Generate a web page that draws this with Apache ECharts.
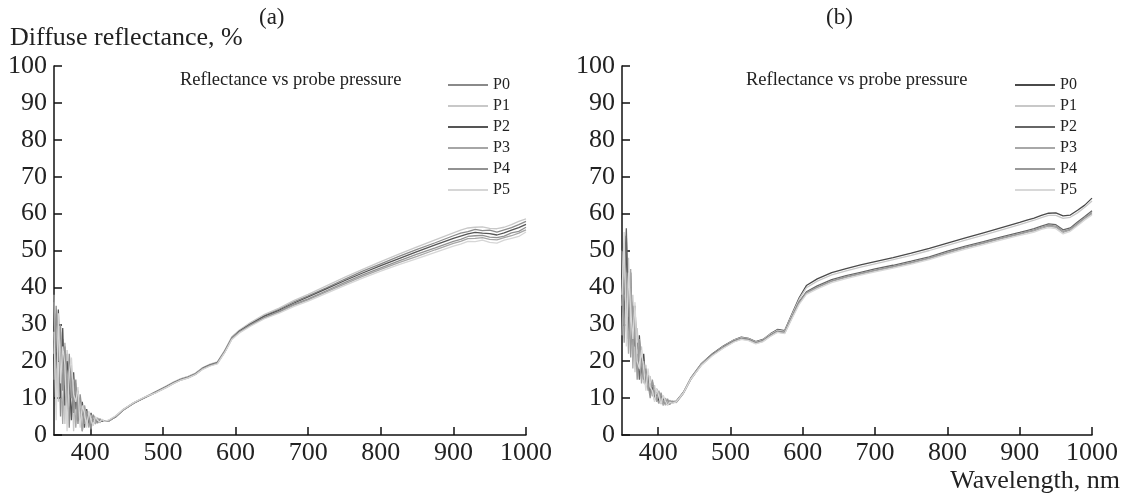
<!DOCTYPE html>
<html>
<head>
<meta charset="utf-8">
<script src="https://cdn.jsdelivr.net/npm/echarts@6/dist/echarts.min.js"></script>
<style>html,body{margin:0;padding:0;background:#fff}#c{width:1124px;height:495px}</style>
</head>
<body>
<div id="c"></div>
<script>
// Wavelengths (nm)
const wl = [350,353,356,359,362,365,368,371,374,377,380,383,386,389,392,395,398,401,404,407,410,413,416,419,
  425,435,445,460,475,490,505,515,525,535,545,555,565,575,585,595,605,620,640,660,680,700,725,750,775,800,825,850,875,900,
  910,920,930,940,950,960,970,980,990,1000];
const xTicks = [400,500,600,700,800,900,1000];
const names = ['P0','P1','P2','P3','P4','P5'];

// Chart (a) – diffuse reflectance, %
const a_P0 = [36,12,31,5,26,14,22,2,18,8,13,3,10,1,7,4,6,2.5,5,3.5,4.5,3.6,4.0,3.8,
  3.7,5.0,6.8,8.6,10.2,11.7,13.2,14.3,15.2,15.8,16.7,18.2,19.1,19.7,22.8,26.5,28.2,30.2,32.5,34.1,36.1,37.7,39.9,42.2,44.4,46.4,48.4,50.3,52.1,54.0,
  54.7,55.1,55.7,55.4,55.5,55.0,55.6,56.2,57.0,57.9];
const a_P1 = [22,33,9,28,18,3,23,11,19,1,14,6,9,2,8,3,5.5,3,5,3,4.4,3.9,3.8,3.7,
  3.9,5.1,6.9,8.8,10.3,11.8,13.3,14.4,15.3,15.9,16.8,18.3,19.2,19.8,22.9,26.6,28.4,30.4,32.7,34.4,36.4,38.1,40.4,42.7,44.9,47.0,49.0,51.0,52.9,54.8,
  55.5,56.1,56.3,56.4,56.0,55.9,56.3,57.0,57.9,58.6];
const a_P2 = [30,18,34,10,29,8,20,15,4,17,7,12,4,9,2,7,3,6,3.5,4.8,3.5,4.1,3.7,3.9,
  3.8,4.9,6.7,8.7,10.1,11.6,13.1,14.2,15.1,15.7,16.6,18.1,19.0,19.6,22.6,26.3,28.1,30.0,32.2,33.8,35.7,37.4,39.6,41.8,43.9,45.9,47.8,49.7,51.5,53.3,
  53.9,54.5,54.9,54.7,54.6,54.2,54.8,55.5,56.2,57.1];
const a_P3 = [38,8,27,21,3,25,12,20,10,15,2,11,7,1,8,5,2,5.5,4,3,4.7,3.3,4.2,3.8,
  3.7,5.0,6.7,8.6,10.1,11.5,12.9,14.0,14.9,15.5,16.4,17.9,18.8,19.4,22.4,26.0,27.8,29.6,31.7,33.3,35.1,36.6,38.8,40.9,43.0,44.9,46.7,48.4,50.2,51.9,
  52.5,53.2,53.3,53.5,53.0,52.9,53.5,54.0,54.7,55.6];
const a_P4 = [15,35,20,30,12,24,5,22,14,6,15,4,11,6,3,6.5,5,1.5,5.5,4.3,3.2,4.4,3.9,3.9,
  3.9,5.1,6.8,8.7,10.2,11.5,13.0,14.1,15.0,15.6,16.5,18.0,18.9,19.5,22.5,26.2,27.9,29.8,31.9,33.5,35.4,36.9,39.1,41.3,43.4,45.3,47.2,49.0,50.7,52.5,
  53.0,53.8,54.0,54.1,53.6,53.5,53.9,54.8,55.2,56.3];
const a_P5 = [28,4,33,14,24,19,1,17,21,11,9,13,2,8,6,2,6.5,4,2.5,5,4,3.5,4.3,3.7,
  4.0,5.2,6.9,8.8,10.3,11.4,12.9,14.0,14.9,15.5,16.4,17.8,18.7,19.3,22.3,25.9,27.6,29.4,31.5,33.0,34.8,36.3,38.4,40.5,42.5,44.4,46.2,47.8,49.5,51.2,
  51.7,52.5,52.4,52.8,52.2,52.0,52.8,53.3,53.8,55.0];

// Chart (b)
const b_P0 = [48,30,54,26,44,22,35,18,27,16,22,14,17,12,14.5,10,12.5,9,11,8.5,9.5,8.2,8.8,9.0,
  9.2,11.6,15.4,19.4,22.0,24.1,25.8,26.5,26.2,25.3,25.9,27.4,28.6,28.3,32.8,37.2,40.5,42.3,44.0,45.1,46.1,47.0,48.1,49.3,50.6,52.0,53.4,54.8,56.2,57.6,
  58.2,58.8,59.5,60.1,60.2,59.4,59.6,60.9,62.3,64.2];
const b_P1 = [35,52,28,48,25,38,17,29,20,24,14,19,13,16,11,13.5,9.5,11.5,9,10.5,8,9.5,8.5,9.3,
  9.0,11.5,15.3,19.3,21.9,24.0,25.7,26.4,26.1,25.2,25.8,27.3,28.4,28.1,32.5,36.8,39.9,41.7,43.4,44.5,45.5,46.4,47.5,48.7,50.0,51.4,52.8,54.2,55.6,57.0,
  57.6,58.2,58.9,59.5,59.5,58.7,59.0,60.2,61.7,63.4];
const b_P2 = [42,38,56,32,40,30,24,25,15,21,17,13,16,11,13,9.5,11,10,8.5,9.8,8.8,8.3,9.2,8.7,
  8.9,11.4,15.1,19.1,21.8,23.8,25.5,26.2,25.9,25.0,25.6,27.0,28.1,27.8,32.0,36.1,38.8,40.4,42.1,43.2,44.1,45.0,46.0,47.1,48.3,49.8,51.2,52.4,53.7,54.9,
  55.4,55.9,56.6,57.2,57.0,55.6,56.1,57.7,59.2,60.8];
const b_P3 = [27,46,40,22,45,18,33,22,24,14,20,16,12,14,10.5,12,9,12,10,8,10,8.6,9.4,8.9,
  9.1,11.5,15.2,19.0,21.6,23.6,25.3,26.0,25.7,24.8,25.4,26.8,27.9,27.6,31.7,35.7,38.4,39.9,41.6,42.7,43.6,44.5,45.5,46.6,47.8,49.3,50.7,51.9,53.2,54.4,
  54.9,55.3,56.0,56.6,56.3,54.9,55.5,57.0,58.6,60.0];
const b_P4 = [50,25,44,38,21,35,28,15,26,19,15,18,14,10,15,11,10,8.5,11.5,9,8.3,9.8,8.2,9.1,
  8.8,11.3,15.0,19.2,21.7,23.7,25.4,26.1,25.8,24.9,25.5,26.9,28.0,27.7,31.9,35.9,38.6,40.1,41.8,42.9,43.8,44.7,45.7,46.8,48.0,49.5,50.9,52.1,53.4,54.6,
  55.1,55.6,56.3,56.9,56.6,55.2,55.8,57.3,58.9,60.3];
const b_P5 = [38,55,24,44,34,26,36,20,18,23,18,12,18,13,12,9,12.5,10.5,8.3,10.8,9.2,8.0,8.9,8.6,
  9.0,11.4,15.1,18.9,21.5,23.5,25.2,25.9,25.6,24.7,25.3,26.7,27.8,27.5,31.5,35.4,38.1,39.6,41.3,42.4,43.3,44.2,45.2,46.3,47.5,49.0,50.4,51.6,52.9,54.1,
  54.5,55.0,55.7,56.2,55.9,54.5,55.2,56.7,58.3,59.6];

const colorsA = ['#8a8a8a','#c8c8c8','#555555','#a6a6a6','#929292','#d6d6d6'];
const colorsB = ['#4a4a4a','#c8c8c8','#666666','#a8a8a8','#999999','#d8d8d8'];

const FONT = 'Liberation Serif';
const seriesA = [a_P0,a_P1,a_P2,a_P3,a_P4,a_P5];
const seriesB = [b_P0,b_P1,b_P2,b_P3,b_P4,b_P5];

function mk(name, arr, color, idx) {
  return {
    name: name, type: 'line', xAxisIndex: idx, yAxisIndex: idx,
    showSymbol: false, symbol: 'none', animation: false,
    lineStyle: { color: color, width: 1.3 }, itemStyle: { color: color },
    data: wl.map((w, i) => [w, arr[i]])
  };
}
function xAxis(idx) {
  return {
    type: 'value', gridIndex: idx, min: 350, max: 1000,
    axisLine: { show: true, lineStyle: { color: '#111', width: 1.5 } },
    axisTick: { show: true, inside: true, length: 8, lineStyle: { color: '#111', width: 1.5 }, customValues: xTicks },
    axisLabel: { color: '#222', fontFamily: FONT, fontSize: 26, margin: 5, customValues: xTicks,
      formatter: v => String(v) },
    splitLine: { show: false }
  };
}
function yAxis(idx) {
  return {
    type: 'value', gridIndex: idx, min: 0, max: 100, interval: 10,
    axisLine: { show: true, lineStyle: { color: '#111', width: 1.5 } },
    axisTick: { show: true, inside: true, length: 8, lineStyle: { color: '#111', width: 1.5 } },
    axisLabel: { color: '#222', fontFamily: FONT, fontSize: 26, margin: 7, formatter: v => String(v) },
    splitLine: { show: false }
  };
}
function legend(left, colors) {
  return {
    orient: 'vertical', left: left, top: 72, icon: 'rect', itemWidth: 40, itemHeight: 2, itemGap: 5,
    selectedMode: false,
    textStyle: { fontFamily: FONT, fontSize: 16, color: '#222', padding: [0,0,0,0] },
    data: names.map((n, i) => ({ name: n, itemStyle: { color: colors[i] } }))
  };
}

const chart = echarts.init(document.getElementById('c'), null, { renderer: 'canvas' });
chart.setOption({
  backgroundColor: '#fff',
  animation: false,
  grid: [
    { left: 54, top: 66, width: 472, height: 369 },
    { left: 622, top: 66, width: 470, height: 369 }
  ],
  xAxis: [xAxis(0), xAxis(1)],
  yAxis: [yAxis(0), yAxis(1)],
  legend: [legend(443, colorsA), legend(1010, colorsB)],
  series: names.map((n, i) => mk(n, seriesA[i], colorsA[i], 0))
    .concat(names.map((n, i) => mk(n, seriesB[i], colorsB[i], 1))),
  graphic: [
    { type: 'text', left: 10, top: 25, style: { text: 'Diffuse reflectance, %', font: '26px "Liberation Serif"', fill: '#222' } },
    { type: 'text', left: 259, top: 6, style: { text: '(a)', font: '23px "Liberation Serif"', fill: '#222' } },
    { type: 'text', left: 826, top: 6, style: { text: '(b)', font: '23px "Liberation Serif"', fill: '#222' } },
    { type: 'text', left: 180, top: 71, style: { text: 'Reflectance vs probe pressure', font: '18.5px "Liberation Serif"', fill: '#222' } },
    { type: 'text', left: 746, top: 71, style: { text: 'Reflectance vs probe pressure', font: '18.5px "Liberation Serif"', fill: '#222' } },
    { type: 'text', right: 4, top: 468, style: { text: 'Wavelength, nm', font: '26px "Liberation Serif"', fill: '#222' } }
  ]
});
</script>
</body>
</html>
